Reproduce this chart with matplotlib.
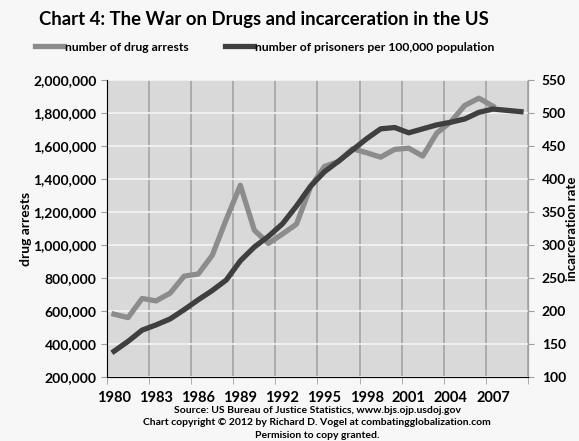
import matplotlib
matplotlib.use('Agg')
import matplotlib.pyplot as plt
from matplotlib.ticker import FuncFormatter, FixedLocator

plt.rcParams['font.family'] = ['Lato', 'DejaVu Sans']
plt.rcParams['font.weight'] = 'bold'
plt.rcParams['axes.labelweight'] = 'bold'

# データ
years = list(range(1980, 2010))
drug_arrests = [580900, 559900, 676000, 661400, 708400, 811400, 824100, 937400,
                1155200, 1361700, 1089500, 1010000, 1066400, 1126300, 1351400,
                1476100, 1506200, 1583600, 1559100, 1532200, 1579600, 1586900,
                1538800, 1678200, 1746600, 1846400, 1889800, 1841200]
incarceration_rate = [139, 154, 171, 179, 188, 202, 217, 231, 247, 276,
                      297, 313, 332, 359, 389, 411, 427, 444, 461, 476,
                      478, 470, 476, 482, 486, 491, 501, 506, 504, 502]
tick_years = years[::3][:10]

light = '#8c8c8c'
dark = '#3f3f3f'

fig = plt.figure(figsize=(5.79, 4.41), dpi=100, facecolor='#f7f7f7')
ax = fig.add_axes([0.1848, 0.1451, 0.7271, 0.6735])
ax.set_facecolor('#d9d9d9')

x_arr = list(range(len(drug_arrests)))
x_rate = list(range(len(incarceration_rate)))
l1, = ax.plot(x_arr, drug_arrests, color=light, lw=3.8,
              solid_joinstyle='round', label='number of drug arrests')
ax.set_ylim(200000, 2000000)
ax.set_xlim(-0.5, len(years) - 0.5)
ax.set_yticks(range(200000, 2000001, 200000))
ax.yaxis.set_major_formatter(FuncFormatter(lambda v, p: f'{int(v):,}'))

# x軸: ラベルはカテゴリ中央、目盛り線は境界
ax.set_xticks([years.index(y) for y in tick_years])
ax.set_xticklabels([str(y) for y in tick_years])
ax.xaxis.set_minor_locator(FixedLocator([i - 0.5 for i in range(0, len(years) + 1, 3)]))
ax.tick_params(axis='x', which='major', length=0, pad=10, labelsize=10.5)
ax.tick_params(axis='x', which='minor', length=5, color='#a0a0a0')
ax.tick_params(axis='y', length=4, color='#a0a0a0', labelsize=10)
ax.grid(axis='x', which='minor', color='#a3a3a3', lw=1.2)
ax.grid(axis='y', which='major', color='#f4f4f4', lw=1.2)
ax.set_axisbelow(True)
ax.spines['top'].set_visible(False)
for s in ['left', 'right', 'bottom']:
    ax.spines[s].set_color('#a0a0a0')
ax.set_ylabel('drug arrests', fontsize=10, labelpad=1)

ax2 = ax.twinx()
l2, = ax2.plot(x_rate, incarceration_rate, color=dark, lw=3.8,
               solid_joinstyle='round', label='number of prisoners per 100,000 population')
ax2.set_ylim(100, 550)
ax2.set_yticks(range(100, 551, 50))
ax2.tick_params(axis='y', length=4, color='#a0a0a0', labelsize=10, pad=6)
ax2.spines['top'].set_visible(False)
ax2.spines['right'].set_color('#a0a0a0')

# 右軸ラベル（参照画像では右端ぎりぎり）
fig.text(0.988, 0.4818, 'incarceration rate', rotation=90, ha='center', va='center',
         fontsize=9.5, fontweight='bold')

fig.text(0.456, 0.956, 'Chart 4: The War on Drugs and incarceration in the US',
         ha='center', va='center', fontsize=13.3, fontweight='bold')
fig.legend(handles=[l1, l2], loc='center', bbox_to_anchor=(0.457, 0.893), ncol=2,
           frameon=False, fontsize=8.7, handlelength=2.4, handletextpad=0.05,
           columnspacing=3.0)

fig.text(0.548, 0.07, 'Source: US Bureau of Justice Statistics, www.bjs.ojp.usdoj.gov',
         ha='center', va='center', fontsize=7.5)
fig.text(0.548, 0.041, 'Chart copyright \u00a9 2012 by Richard D. Vogel at combatingglobalization.com',
         ha='center', va='center', fontsize=7.5)
fig.text(0.548, 0.012, 'Permision to copy granted.',
         ha='center', va='center', fontsize=7.5)

fig.savefig('out.png', dpi=100, facecolor=fig.get_facecolor())
